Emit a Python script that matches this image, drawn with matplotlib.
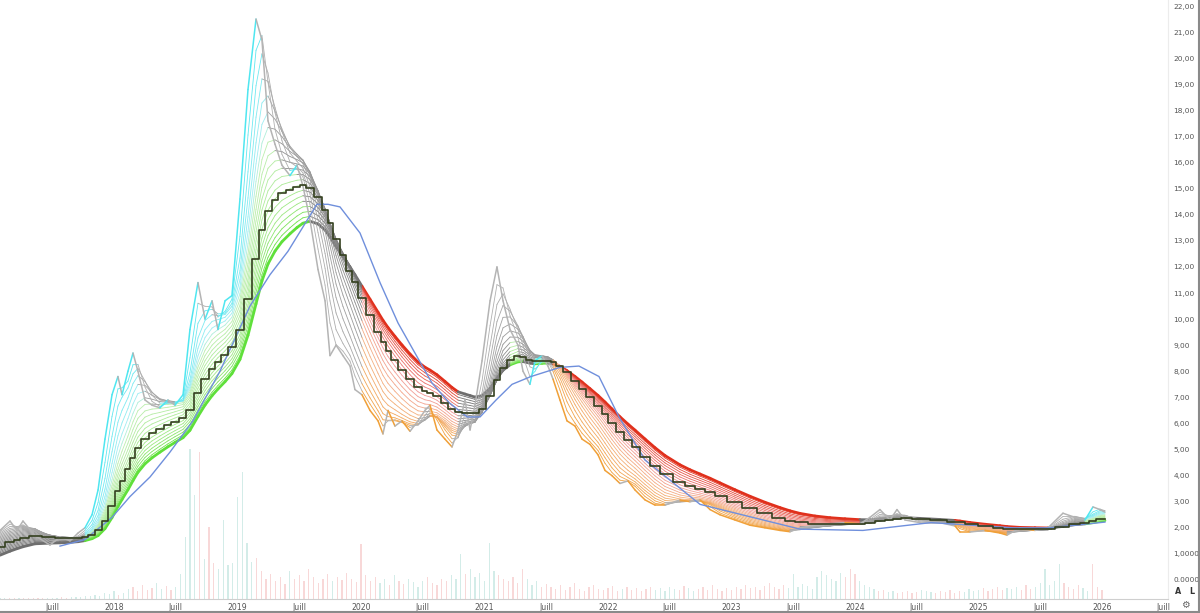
import numpy as np
import matplotlib.pyplot as plt
from matplotlib.collections import LineCollection
from matplotlib.colors import LinearSegmentedColormap
from matplotlib.lines import Line2D

# fastest line of the ribbon (decimal year, price)
dates = [2017.077, 2017.158, 2017.215, 2017.263, 2017.360, 2017.482, 2017.563, 2017.644,
         2017.709, 2017.765, 2017.822, 2017.871, 2017.927, 2017.984, 2018.032, 2018.065,
         2018.113, 2018.154, 2018.194, 2018.251, 2018.308, 2018.372, 2018.437, 2018.494,
         2018.559, 2018.615, 2018.680, 2018.737, 2018.794, 2018.842, 2018.899, 2018.955,
         2019.020, 2019.085, 2019.150, 2019.198, 2019.247, 2019.304, 2019.360, 2019.425,
         2019.482, 2019.530, 2019.587, 2019.652, 2019.709, 2019.749, 2019.798, 2019.854,
         2019.911, 2019.951, 2020.008, 2020.073, 2020.138, 2020.178, 2020.219, 2020.275,
         2020.332, 2020.397, 2020.462, 2020.518, 2020.559, 2020.615, 2020.680, 2020.737,
         2020.786, 2020.842, 2020.883, 2020.923, 2020.980, 2021.045, 2021.101, 2021.150,
         2021.207, 2021.271, 2021.312, 2021.368, 2021.409, 2021.466, 2021.514, 2021.555,
         2021.611, 2021.668, 2021.733, 2021.790, 2021.854, 2021.919, 2021.976, 2022.032,
         2022.097, 2022.162, 2022.219, 2022.300, 2022.381, 2022.462, 2022.583, 2022.664,
         2022.745, 2022.826, 2022.907, 2023.028, 2023.150, 2023.271, 2023.393, 2023.474,
         2023.555, 2023.676, 2023.798, 2023.919, 2024.040, 2024.121, 2024.202, 2024.283,
         2024.340, 2024.405, 2024.526, 2024.688, 2024.810, 2024.850, 2024.931, 2025.053,
         2025.174, 2025.231, 2025.336, 2025.457, 2025.563, 2025.684, 2025.781, 2025.862,
         2025.927, 2025.984, 2026.024]
fast = [1.90, 2.26, 1.90, 2.26, 1.70, 1.34, 1.65, 1.50,
        1.80, 2.00, 2.50, 3.45, 5.40, 7.10, 7.80, 7.10,
        8.00, 8.70, 8.00, 6.90, 6.70, 6.60, 6.90, 6.70,
        7.10, 9.60, 11.40, 10.00, 10.70, 9.60, 10.70, 10.90,
        14.60, 18.80, 21.50, 20.70, 17.60, 16.70, 15.90, 15.50,
        15.90, 15.10, 13.80, 11.90, 10.70, 8.60, 9.00, 8.60,
        8.20, 7.30, 7.10, 6.50, 6.10, 5.60, 6.50, 5.90,
        6.10, 5.70, 6.10, 6.50, 6.70, 5.75, 5.40, 5.10,
        5.75, 6.90, 5.75, 6.70, 8.40, 10.70, 12.00, 10.70,
        9.60, 9.00, 8.00, 7.50, 8.40, 8.60, 8.20, 7.70,
        6.90, 6.10, 5.90, 5.40, 5.20, 4.80, 4.20, 4.00,
        3.70, 3.80, 3.45, 3.07, 2.87, 2.87, 3.07, 3.00,
        3.07, 2.70, 2.50, 2.30, 2.10, 2.00, 1.90, 1.85,
        2.00, 2.10, 2.15, 2.20, 2.15, 2.40, 2.70, 2.30,
        2.70, 2.30, 2.20, 2.20, 2.07, 1.84, 1.84, 1.90,
        1.80, 1.72, 2.00, 1.90, 2.00, 2.56, 2.40, 2.30,
        2.80, 2.70, 2.60]

# blue long moving average
blue_dates = [2017.563, 2017.765, 2017.984, 2018.130, 2018.292, 2018.453, 2018.639,
              2018.858, 2019.101, 2019.263, 2019.409, 2019.643, 2019.733, 2019.830,
              2019.992, 2020.154, 2020.300, 2020.437, 2020.575, 2020.713, 2020.859,
              2020.964, 2021.094, 2021.223, 2021.377, 2021.611, 2021.765, 2021.927,
              2022.089, 2022.300, 2022.745, 2023.555, 2024.064, 2024.615, 2025.279,
              2025.579, 2025.984, 2026.024]
blue_vals = [1.30, 1.55, 2.40, 3.20, 3.95, 4.90, 6.10,
             8.00, 10.50, 11.70, 12.60, 14.40, 14.40, 14.30,
             13.30, 11.40, 9.85, 8.70, 7.55, 6.80, 6.25,
             6.25, 6.90, 7.50, 7.80, 8.15, 8.20, 7.80,
             6.25, 4.60, 2.90, 1.95, 1.90, 2.20, 2.00,
             2.00, 2.20, 2.22]

# trend state of the ribbon
regime_start = [2017.0, 2017.75, 2019.60, 2020.00, 2020.78, 2021.20, 2021.555,
                2023.94, 2024.78, 2025.56, 2025.85]
regime = ['flat', 'bull', 'flat', 'bear', 'flat', 'bull', 'bear',
          'flat', 'bear', 'flat', 'bull']

# volume, one bar every two weeks from the left edge
vol_start = 2017.077
volume = [1, 1, 1, 1, 1, 1, 1, 1, 1, 1, 1, 1, 1, 2, 1, 2, 2, 2, 3, 3,
          4, 3, 6, 5, 8, 4, 6, 10,
          12, 8, 14, 9, 11, 16, 10, 13, 9, 12,
          25, 62, 150, 104, 147, 40, 72, 36, 30, 79, 34, 36, 102, 127, 56, 37, 41, 28,
          20, 25, 18, 22, 15, 28, 20, 24, 18, 30, 22, 16, 20, 25, 18, 22, 19, 26, 20, 17,
          55, 24, 18,
          22, 16, 20, 14, 24, 18, 15, 20, 17, 12, 18, 22, 16, 14, 20, 18, 24,
          20, 45, 25,
          30, 22, 26, 18, 56, 28, 24, 20,
          18, 22, 16, 30, 20, 14, 18, 12, 15,
          12, 10, 14, 9, 12, 16, 10, 8, 12, 14, 10, 9, 11, 13, 8, 10, 12, 9, 11, 8,
          10, 12, 9, 11, 8, 12, 10, 9, 13, 11, 8, 10, 12, 9, 14, 10, 8, 11, 9, 12,
          10, 14, 11, 12, 9, 13, 16, 12, 10, 14, 11, 25, 12, 15, 13, 10, 22, 28, 24, 20,
          18, 26, 22, 30, 25, 18, 14, 12, 10, 8, 9, 7, 8, 6, 7, 8, 6, 7, 9, 8,
          7, 6, 8, 7, 9, 6, 8, 7, 10, 8, 9, 11, 8, 10, 12, 9, 11, 10, 12, 9,
          14, 10, 12, 16, 30, 14, 18, 35, 16, 12, 10, 14, 11, 8, 35, 12, 9]

xtick_pos = [2017.5, 2018, 2018.5, 2019, 2019.5, 2020, 2020.5, 2021, 2021.5, 2022,
             2022.5, 2023, 2023.5, 2024, 2024.5, 2025, 2025.5, 2026, 2026.5]
xtick_labels = ['Juill', '2018', 'Juill', '2019', 'Juill', '2020', 'Juill', '2021', 'Juill',
                '2022', 'Juill', '2023', 'Juill', '2024', 'Juill', '2025', 'Juill', '2026', 'Juill']
ytick_pos = list(range(0, 23))
ytick_labels = ['0.0000', '1,0000'] + ['%d,00' % v for v in range(2, 23)]

n_lines = 20
tau_max = 0.55     # years, slowest line
dark_tau = 0.36
slow_start = 0.95  # slowest line at the left edge

t = np.array(dates)
f = np.array(fast)


def ema(tau, start):
    if tau == 0:
        return f.copy()
    out = np.empty_like(f)
    out[0] = start
    for k in range(1, len(f)):
        dt = t[k] - t[k - 1]
        m = (f[k] - f[k - 1]) / dt
        a = np.exp(-dt / tau)
        out[k] = f[k] - m * tau + (out[k - 1] - f[k - 1] + m * tau) * a
    return out


bull_cmap = LinearSegmentedColormap.from_list('bull', [(0, '#4fe6f0'), (0.28, '#a8eef2'),
                                                       (0.33, '#bdeeb0'), (0.8, '#9de882'),
                                                       (1, '#5fe03a')])
bear_cmap = LinearSegmentedColormap.from_list('bear', [(0, '#f0a038'), (0.35, '#f4b080'),
                                                       (0.6, '#f29a9a'), (1, '#e0301c')])
gray_cmap = LinearSegmentedColormap.from_list('gray', ['#b4b4b4', '#8a8a8a', '#6e6e6e'])

fig = plt.figure(figsize=(12, 6.13), dpi=100)
rect = [0, 14 / 613, 1168 / 1200, 599 / 613]

# volume pane behind the price
axv = fig.add_axes(rect)
vt = vol_start + np.arange(len(volume)) / 26
up = np.interp(vt + 1 / 26, t, f) >= np.interp(vt, t, f)
axv.bar(vt, volume, width=0.009, color=np.where(up, '#d3ece8', '#f8d8d8'), linewidth=0)
axv.set_ylim(0, 599)
axv.axis('off')

ax = fig.add_axes(rect, sharex=axv)
ax.patch.set_alpha(0)

seg_reg = np.array(regime)[np.searchsorted(regime_start, t[:-1], side='right') - 1]
taus = np.linspace(0, tau_max, n_lines + 1)
for i in range(n_lines, -1, -1):
    frac = i / n_lines
    e = ema(taus[i], f[0] + (slow_start - f[0]) * frac)
    rising = np.diff(e) > 0
    cols = []
    for k in range(len(rising)):
        if seg_reg[k] == 'bull' and rising[k]:
            cols.append(bull_cmap(frac))
        elif seg_reg[k] == 'bear' and not rising[k]:
            cols.append(bear_cmap(frac))
        else:
            cols.append(gray_cmap(frac))
    xy = np.column_stack([t, e])
    segs = np.stack([xy[:-1], xy[1:]], axis=1)
    lw = 2.0 if i == n_lines else (1.1 if i == 0 else 0.6)
    ax.add_collection(LineCollection(segs, colors=cols, linewidths=lw, capstyle='round'))

dark = ema(dark_tau, f[0] + (slow_start - f[0]) * dark_tau / tau_max)
ax.plot(t, dark, drawstyle='steps-mid', color='#34401f', lw=1.2, zorder=5)
ax.plot(blue_dates, blue_vals, color='#6f8fdc', lw=1.0, zorder=4)

ax.set_xlim(2017.077, 2017.077 + 1168 / 123.5)
ax.set_ylim((580 - 599) / 26.09, 580 / 26.09)
ax.yaxis.tick_right()
ax.set_yticks(ytick_pos)
ax.set_yticklabels(ytick_labels)
ax.set_xticks(xtick_pos)
ax.set_xticklabels(xtick_labels)
ax.tick_params(axis='y', length=0, pad=4, labelsize=5.3, labelcolor='#555555')
ax.tick_params(axis='x', length=0, pad=3, labelsize=5.6, labelcolor='#555555')
for s in ['top', 'left']:
    ax.spines[s].set_visible(False)
ax.spines['bottom'].set_color('#cfcfcf')
ax.spines['right'].set_color('#ececec')

fig.text(1178 / 1200, 1 - 591 / 613, 'A', fontsize=5.8, color='#333333', ha='center', va='center', weight='bold')
fig.text(1192 / 1200, 1 - 591 / 613, 'L', fontsize=5.8, color='#333333', ha='center', va='center', weight='bold')
fig.text(1185 / 1200, 1 - 605 / 613, '\u2699', fontsize=7, color='#666666', ha='center', va='center')
fig.add_artist(Line2D([1198.5 / 1200] * 2, [0, 1], color='#8a8a8a', lw=1.5))
fig.add_artist(Line2D([0, 1], [1.5 / 613] * 2, color='#8a8a8a', lw=1.5))

fig.savefig('out.png', dpi=100)
